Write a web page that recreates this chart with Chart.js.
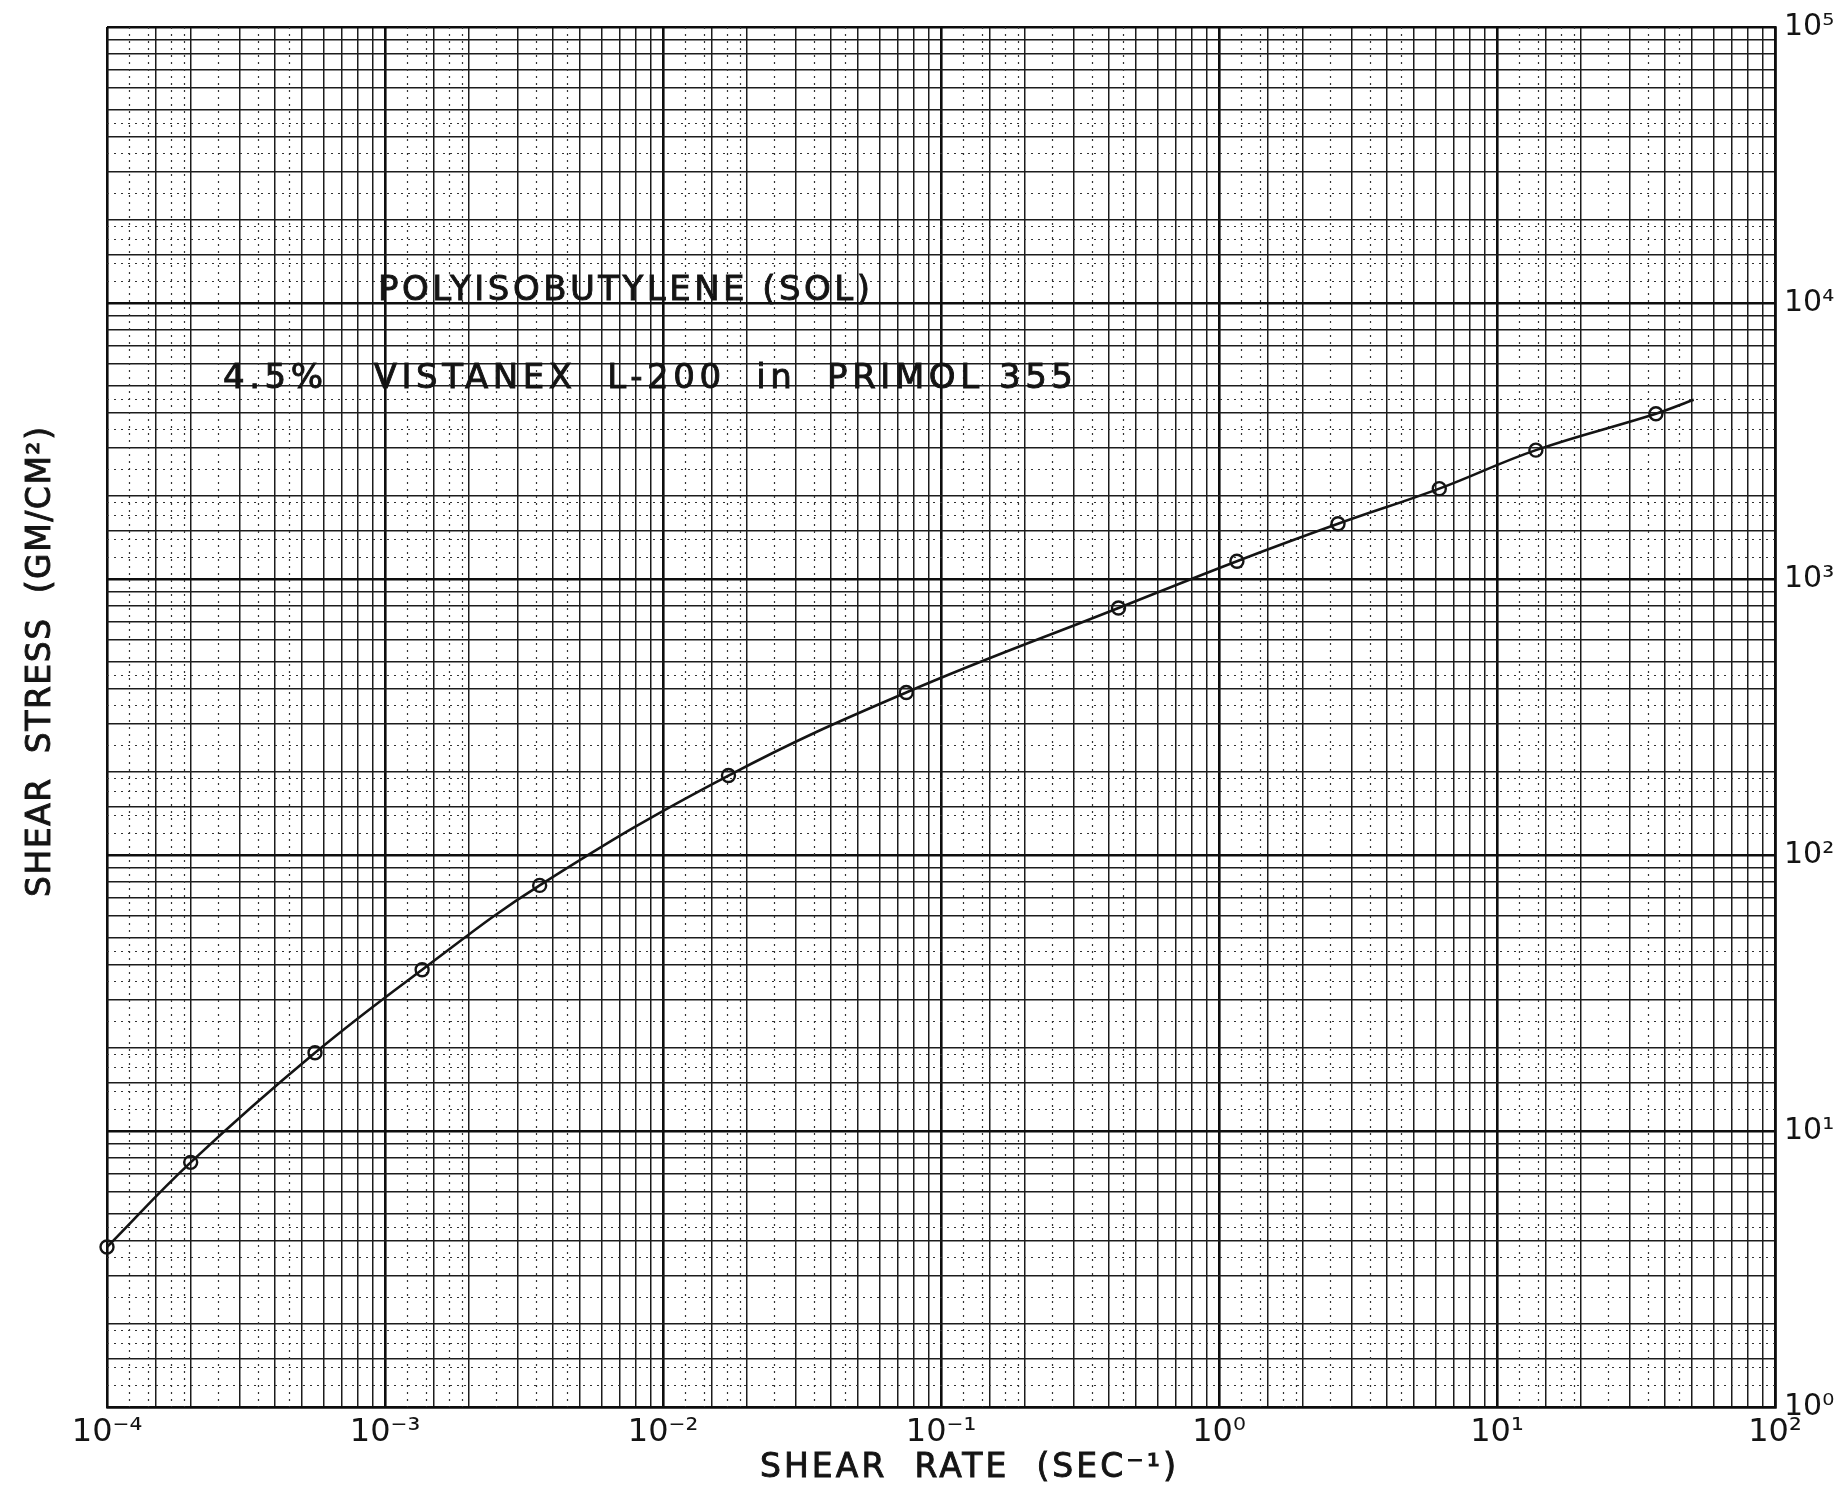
<!DOCTYPE html>
<html>
<head>
<meta charset="utf-8">
<script src="https://cdn.jsdelivr.net/npm/chart.js@4.4.0/dist/chart.umd.min.js"></script>
<style>
  html, body { margin: 0; padding: 0; background: #fff; }
  #wrap { width: 1839px; height: 1489px; }
</style>
</head>
<body>
<div id="wrap"><canvas id="shearChart" width="1839" height="1489"></canvas></div>
<script>
// measured points
const shearRate = [1.0e-4, 2.0e-4, 5.6e-4, 1.36e-3, 3.6e-3, 1.72e-2, 7.5e-2, 0.435, 1.16, 2.68, 6.2, 13.8, 37.3]
const shearStress = [3.8, 7.7, 19.2, 38.4, 77.6, 194, 388, 785, 1160, 1585, 2125, 2930, 3970]

// faired curve runs a little past the last point
const curveRate = [...shearRate, 51]
const curveStress = [...shearStress, 4460]

const xTickLabels = ['10⁻⁴', '10⁻³', '10⁻²', '10⁻¹', '10⁰', '10¹', '10²']
const yTickLabels = ['10⁰', '10¹', '10²', '10³', '10⁴', '10⁵']

// graph paper rulings inside one decade
const solidSteps = [1, 1.5, 2, 3, 4, 5, 6, 7, 8, 9]
const dottedSteps = [1.2, 1.4, 1.7, 1.9, 2.5, 3.5, 4.5]

const isDecade = v => Math.abs(Math.log10(v) - Math.round(Math.log10(v))) < 1e-6

function rulings(min, max, steps) {
   const out = []
   for (let d = Math.floor(Math.log10(min)); d < Math.ceil(Math.log10(max)) + 1; d++) {
      steps.forEach(s => {
         const v = s * Math.pow(10, d)
         if (v >= min * 0.999999 && v <= max * 1.000001) out.push(v)
      })
   }
   return out
}

const ink = '#141414'

const paperPlugin = {
   id: 'paper',
   beforeDatasetsDraw(chart) {
      const { ctx, chartArea: a, scales } = chart
      ctx.save()
      ctx.strokeStyle = '#333'
      ctx.lineWidth = 1.2
      ctx.setLineDash([2, 5])
      rulings(scales.x.min, scales.x.max, dottedSteps).forEach(v => {
         const px = Math.round(scales.x.getPixelForValue(v)) + 0.5
         ctx.beginPath(); ctx.moveTo(px, a.top); ctx.lineTo(px, a.bottom); ctx.stroke()
      })
      rulings(scales.y.min, scales.y.max, dottedSteps).forEach(v => {
         const py = Math.round(scales.y.getPixelForValue(v)) + 0.5
         ctx.beginPath(); ctx.moveTo(a.left, py); ctx.lineTo(a.right, py); ctx.stroke()
      })
      ctx.restore()
   }
}

function spacedText(ctx, text, x0, width, yMid, size) {
   ctx.font = size + 'px "DejaVu Sans"'
   ctx.letterSpacing = '0px'
   const w0 = ctx.measureText(text).width
   const sp = (width - w0) / Math.max(text.length - 1, 1)
   ctx.letterSpacing = sp + 'px'
   ctx.textBaseline = 'middle'
   ctx.textAlign = 'left'
   ctx.fillText(text, x0, yMid)
   ctx.strokeText(text, x0, yMid)
}

const lettering = {
   id: 'lettering',
   afterDraw(chart) {
      const { ctx } = chart
      ctx.save()
      ctx.fillStyle = ink
      ctx.strokeStyle = ink
      ctx.lineWidth = 0.9
      spacedText(ctx, 'POLYISOBUTYLENE (SOL)', 378, 492, 291, 34)
      spacedText(ctx, '4.5%   VISTANEX  L-200  in  PRIMOL 355', 223, 850, 379, 34)
      spacedText(ctx, 'SHEAR  RATE  (SEC⁻¹)', 760, 416, 1468, 33)
      ctx.translate(41, 662)
      ctx.rotate(-Math.PI / 2)
      spacedText(ctx, 'SHEAR  STRESS  (GM/CM²)', -235, 470, 0, 33)
      ctx.restore()
   }
}

const gridLook = {
   color: ctx => (ctx.tick && isDecade(ctx.tick.value) ? '#0d0d0d' : '#1c1c1c'),
   lineWidth: ctx => (ctx.tick && isDecade(ctx.tick.value) ? 2.6 : 1.5),
   drawTicks: false
}

const chart = new Chart(document.getElementById('shearChart').getContext('2d'), {
   type: 'line',
   data: {
      datasets: [
         {
            label: 'curve',
            data: curveRate.map((r, i) => ({ x: r, y: curveStress[i] })),
            borderColor: ink,
            borderWidth: 2.6,
            pointRadius: 0,
            tension: 0.4,
            fill: false
         },
         {
            label: 'measured',
            data: shearRate.map((r, i) => ({ x: r, y: shearStress[i] })),
            showLine: false,
            pointRadius: 6.5,
            pointBorderWidth: 2.4,
            pointBorderColor: ink,
            pointBackgroundColor: 'rgba(255,255,255,0)',
            clip: false
         }
      ]
   },
   options: {
      responsive: false,
      animation: false,
      layout: { padding: { left: 107, top: 24, right: 0, bottom: 0 } },
      plugins: { legend: { display: false }, tooltip: { enabled: false } },
      scales: {
         x: {
            type: 'logarithmic',
            min: 1e-4,
            max: 1e2,
            afterBuildTicks: s => { s.ticks = rulings(s.min, s.max, solidSteps).map(v => ({ value: v })) },
            afterFit: s => { s.height = 82 },
            grid: gridLook,
            border: { display: true, color: '#0d0d0d', width: 2.6 },
            ticks: {
               autoSkip: false,
               maxRotation: 0,
               padding: 6,
               color: ink,
               font: { family: 'DejaVu Sans', size: 32 },
               callback: v => (isDecade(v) ? xTickLabels[Math.round(Math.log10(v)) + 4] : '')
            }
         },
         y: {
            type: 'logarithmic',
            position: 'right',
            min: 1,
            max: 1e5,
            afterBuildTicks: s => { s.ticks = rulings(s.min, s.max, solidSteps).map(v => ({ value: v })) },
            afterFit: s => { s.width = 64 },
            grid: gridLook,
            border: { display: true, color: '#0d0d0d', width: 2.6 },
            ticks: {
               autoSkip: false,
               padding: 9,
               color: ink,
               font: { family: 'DejaVu Sans', size: 30 },
               callback: v => (isDecade(v) ? yTickLabels[Math.round(Math.log10(v))] : '')
            }
         }
      }
   },
   plugins: [paperPlugin, lettering]
})
</script>
</body>
</html>
